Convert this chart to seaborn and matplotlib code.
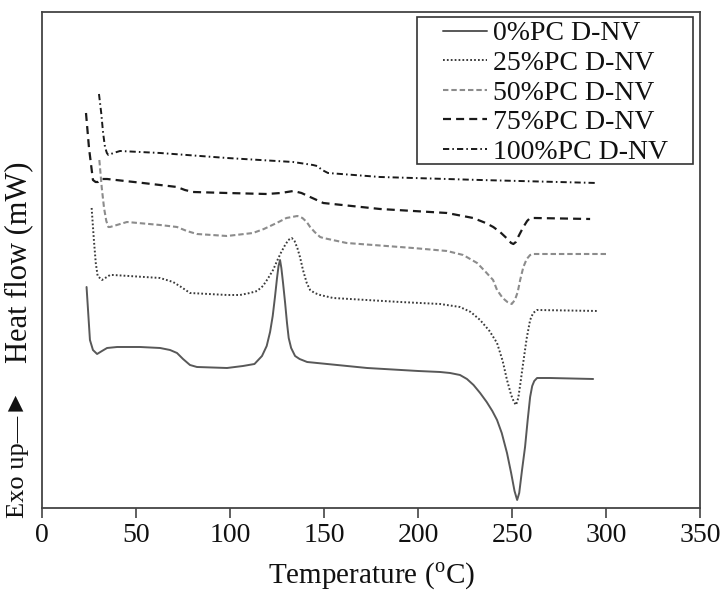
import matplotlib
matplotlib.use("Agg")
import matplotlib.pyplot as plt
import seaborn as sns
import pandas as pd
from matplotlib.patches import Rectangle

sns.set_theme(style="white")
plt.rcParams['font.family'] = ['Liberation Serif', 'DejaVu Serif', 'DejaVu Sans']
plt.rcParams['mathtext.fontset'] = 'custom'
plt.rcParams['mathtext.rm'] = 'Liberation Serif'

# ---- data (temperature in degC, heat flow in arbitrary mW units, curves offset) ----
labels = ["0%PC D-NV", "25%PC D-NV", "50%PC D-NV", "75%PC D-NV", "100%PC D-NV"]

t_0 = [23.7, 25.5, 27.1, 28.2, 29.3, 31.9, 34.6, 40.0, 52.1, 62.8, 68.1, 71.8, 75.0, 78.7,
       82.4, 98.4, 106.9, 113.0, 117.0, 119.5, 121.3, 122.7, 123.9, 125.0, 125.8, 126.6,
       127.3, 128.2, 129.3, 130.3, 131.2, 132.5, 134.6, 137.0, 141.0, 146.3, 172.9, 200.0,
       211.7, 217.0, 222.3, 226.0, 229.5, 233.0, 236.5, 239.5, 242.0, 244.5, 247.3, 249.5,
       251.3, 252.7, 253.8, 255.3, 256.9, 258.3, 259.6, 260.7, 261.8, 263.3, 270.0, 293.1]
hf_0 = [221, 168, 158, 156, 154, 157, 160, 161, 161, 160, 158, 155, 149, 143,
        141, 140, 142, 144, 152, 162, 176, 192, 211, 230, 242, 248,
        240, 225, 205, 185, 170, 160, 152, 149, 146, 145, 140, 137,
        136, 135, 133, 129, 123, 115, 106, 97, 88, 75, 55, 35,
        17, 8, 15, 38, 61, 88, 111, 122, 127, 130, 130, 129]

t_25 = [26.4, 27.6, 28.6, 29.6, 31.9, 36.2, 37.8, 62.8, 69.7, 74.0, 78.7, 98.4, 105.3, 110.6,
        114.4, 117.5, 120.0, 122.9, 125.0, 127.0, 129.0, 131.0, 132.8, 134.3, 135.8, 137.2,
        138.8, 140.8, 142.6, 145.0, 147.9, 154.8, 190.4, 211.7, 222.3, 228.0, 233.0, 238.0,
        242.0, 245.0, 247.3, 249.5, 251.0, 252.1, 253.3, 254.6, 255.9, 257.8, 259.6, 261.2,
        263.3, 295.7]
hf_25 = [300, 268, 245, 232, 228, 233, 233, 230, 226, 221, 215, 213, 213, 215,
         217, 222, 229, 238, 247, 255, 262, 268, 270, 267, 260, 251,
         238, 225, 218, 215, 213, 210, 206, 204, 201, 196, 188, 177,
         165, 147, 128, 113, 106, 103, 110, 127, 145, 170, 188, 195,
         198, 197]

t_50 = [30.5, 31.8, 33.0, 34.2, 35.3, 36.2, 45.2, 62.8, 71.8, 77.0, 82.4, 98.4, 112.2, 118.0,
        124.8, 130.0, 135.8, 138.5, 140.8, 142.6, 145.0, 147.9, 149.6, 162.0, 197.3, 215.4,
        224.0, 231.4, 236.0, 239.9, 242.0, 245.0, 247.5, 249.8, 251.5, 253.0, 254.3, 256.0,
        257.8, 259.6, 261.5, 300.5]
hf_50 = [348, 320, 300, 287, 281, 281, 286, 283, 281, 277, 274, 272, 275, 279,
         285, 290, 292, 290, 286, 281, 276, 271, 270, 265, 260, 257,
         253, 245, 236, 228, 218, 210, 206, 204, 208, 216, 228, 241,
         249, 253, 254, 254]

t_75 = [23.4, 25.0, 27.1, 28.5, 29.8, 31.9, 34.6, 53.7, 71.8, 76.0, 80.3, 98.4, 119.5, 127.0,
        133.7, 138.0, 142.6, 149.6, 179.8, 215.4, 229.3, 236.0, 240.0, 243.6, 247.0, 249.5,
        250.7, 252.0, 253.5, 256.0, 258.0, 259.6, 262.0, 291.5]
hf_75 = [395, 360, 328, 326, 326, 329, 329, 325, 321, 318, 316, 315, 314, 315,
         317, 315, 311, 305, 299, 295, 290, 285, 281, 276, 270, 265,
         264, 266, 272, 281, 287, 290, 290, 289]

t_100 = [30.3, 31.5, 32.5, 33.5, 34.5, 35.3, 38.0, 41.5, 62.8, 98.4, 133.5, 144.1, 146.3, 149.0,
         152.1, 179.8, 233.0, 295.2]
hf_100 = [414, 395, 375, 361, 355, 353, 355, 357, 355, 350, 346, 343, 342, 338,
          335, 331, 328, 325]

series_t = [t_0, t_25, t_50, t_75, t_100]
series_hf = [hf_0, hf_25, hf_50, hf_75, hf_100]

colors = ["#585858", "#3a3a3a", "#8c8c8c", "#1a1a1a", "#1a1a1a"]
styles = ["-", (0, (0.9, 1.1)), (0, (2.6, 1.4)), (0, (3.6, 2.3)), (0, (3.2, 1.6, 0.8, 1.6))]
widths = [1.4, 1.4, 1.5, 1.6, 1.4]

# ---- figure ----
fig = plt.figure(figsize=(7.24, 5.94), dpi=100)
ax = fig.add_axes([0.058, 0.1448, 0.909, 0.835])

for lab, t, hf, c, ls, lw in zip(labels, series_t, series_hf, colors, styles, widths):
    df = pd.DataFrame({"Temperature": t, "Heat flow": hf})
    sns.lineplot(data=df, x="Temperature", y="Heat flow", ax=ax, color=c, linestyle=ls,
                 linewidth=lw, sort=False, estimator=None, label=lab)

ax.set_xlim(0, 350)
ax.set_ylim(0, 496)
ax.set_xticks(range(0, 351, 50))
ax.set_yticks([])
ax.set_xlabel(r"Temperature ($^{\rm o}$C)", fontsize=21, labelpad=9, color="#111")
ax.set_ylabel("")
ax.tick_params(axis="x", direction="out", length=7, width=1.2, color="#444",
               labelsize=20, pad=4, labelcolor="#111", bottom=True)
for s in ax.spines.values():
    s.set_color("#444")
    s.set_linewidth(1.3)
    s.set_visible(True)

ax.text(-0.036, 0.496, "Heat flow (mW)", transform=ax.transAxes, rotation=90,
        ha="center", va="center", fontsize=22, color="#111")
ax.text(-0.036, 0.11, "Exo up\u2014\u25ba", transform=ax.transAxes, rotation=90,
        ha="center", va="center", fontsize=19, color="#111")

leg = ax.legend(loc="upper left", bbox_to_anchor=(0.609, 0.982), frameon=False,
                fontsize=20, handlelength=1.6, handletextpad=0.2, labelspacing=0.15,
                borderpad=0, borderaxespad=0)
for txt in leg.get_texts():
    txt.set_color("#111")
ax.add_patch(Rectangle((0.570, 0.694), 0.419, 0.296, transform=ax.transAxes,
                       fill=False, edgecolor="#333", linewidth=1.2, zorder=5))

fig.savefig("out.png", dpi=100)
